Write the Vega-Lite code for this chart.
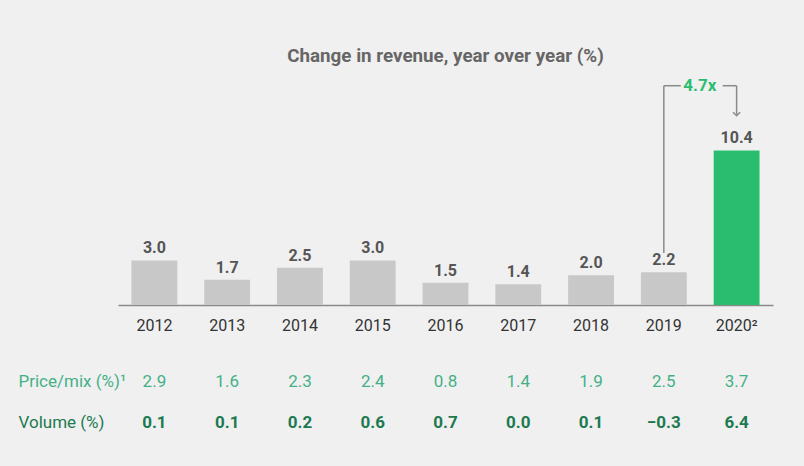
{
  "$schema": "https://vega.github.io/schema/vega-lite/v6.json",
  "background": "#f0f0f0",
  "padding": {"left": 18, "top": 46, "right": 31, "bottom": 31},
  "config": {"font": "Roboto", "view": {"stroke": null}, "concat": {"spacing": 28}},
  "datasets": {
    "rev": [
      {"year": "2012", "value": 3.0},
      {"year": "2013", "value": 1.7},
      {"year": "2014", "value": 2.5},
      {"year": "2015", "value": 3.0},
      {"year": "2016", "value": 1.5},
      {"year": "2017", "value": 1.4},
      {"year": "2018", "value": 2.0},
      {"year": "2019", "value": 2.2},
      {"year": "2020²", "value": 10.4}
    ],
    "ann": [
      {"year": "2019", "year2": "2020²", "top": 14.75, "low": 3.5, "tip": 12.8, "label": "4.7x"}
    ],
    "tab": [
      {"year": "2012", "row": "Price/mix (%)¹", "value": 2.9},
      {"year": "2013", "row": "Price/mix (%)¹", "value": 1.6},
      {"year": "2014", "row": "Price/mix (%)¹", "value": 2.3},
      {"year": "2015", "row": "Price/mix (%)¹", "value": 2.4},
      {"year": "2016", "row": "Price/mix (%)¹", "value": 0.8},
      {"year": "2017", "row": "Price/mix (%)¹", "value": 1.4},
      {"year": "2018", "row": "Price/mix (%)¹", "value": 1.9},
      {"year": "2019", "row": "Price/mix (%)¹", "value": 2.5},
      {"year": "2020²", "row": "Price/mix (%)¹", "value": 3.7},
      {"year": "2012", "row": "Volume (%)", "value": 0.1},
      {"year": "2013", "row": "Volume (%)", "value": 0.1},
      {"year": "2014", "row": "Volume (%)", "value": 0.2},
      {"year": "2015", "row": "Volume (%)", "value": 0.6},
      {"year": "2016", "row": "Volume (%)", "value": 0.7},
      {"year": "2017", "row": "Volume (%)", "value": 0.0},
      {"year": "2018", "row": "Volume (%)", "value": 0.1},
      {"year": "2019", "row": "Volume (%)", "value": -0.3},
      {"year": "2020²", "row": "Volume (%)", "value": 6.4}
    ]
  },
  "vconcat": [
    {
      "width": 655,
      "height": 223,
      "title": {"text": "Change in revenue, year over year (%)", "fontSize": 18.8, "fontWeight": "bold", "color": "#666666", "anchor": "middle", "offset": 11},
      "encoding": {
        "x": {
          "field": "year", "type": "ordinal",
          "scale": {"domain": ["2012","2013","2014","2015","2016","2017","2018","2019","2020²"], "paddingInner": 0.37, "paddingOuter": 0.185},
          "axis": {"title": null, "labelAngle": 0, "ticks": false, "domainColor": "#8a8a8a", "domainWidth": 1.5, "labelFontSize": 16, "labelColor": "#333333", "labelPadding": 12}
        }
      },
      "layer": [
        {
          "data": {"name": "rev"},
          "mark": {"type": "bar"},
          "encoding": {
            "y": {"field": "value", "type": "quantitative", "scale": {"domain": [0, 15], "nice": false}, "axis": null},
            "color": {"condition": {"test": "datum.year === '2020²'", "value": "#2bbd6f"}, "value": "#c8c8c8"}
          }
        },
        {
          "data": {"name": "rev"},
          "mark": {"type": "text", "baseline": "bottom", "dy": -4, "fontSize": 16, "fontWeight": "bold", "color": "#555555"},
          "encoding": {
            "y": {"field": "value", "type": "quantitative"},
            "text": {"field": "value", "type": "quantitative", "format": ".1f"}
          }
        },
        {
          "data": {"name": "ann"},
          "mark": {"type": "rule", "color": "#8a8a8a", "strokeWidth": 1.5},
          "encoding": {
            "y": {"field": "low", "type": "quantitative"},
            "y2": {"field": "top"}
          }
        },
        {
          "data": {"name": "ann"},
          "mark": {"type": "rule", "color": "#8a8a8a", "strokeWidth": 1.5, "x2Offset": 17},
          "encoding": {
            "x2": {"field": "year"},
            "y": {"field": "top", "type": "quantitative"}
          }
        },
        {
          "data": {"name": "ann"},
          "mark": {"type": "rule", "color": "#8a8a8a", "strokeWidth": 1.5, "xOffset": -14},
          "encoding": {
            "x": {"field": "year2", "type": "ordinal"},
            "x2": {"field": "year2"},
            "y": {"field": "top", "type": "quantitative"}
          }
        },
        {
          "data": {"name": "ann"},
          "mark": {"type": "rule", "color": "#8a8a8a", "strokeWidth": 1.5},
          "encoding": {
            "x": {"field": "year2", "type": "ordinal"},
            "y": {"field": "tip", "type": "quantitative"},
            "y2": {"field": "top"}
          }
        },
        {
          "data": {"name": "ann"},
          "mark": {"type": "point", "shape": "M -1 -0.7 L 0 0.3 L 1 -0.7", "filled": false, "color": "#8a8a8a", "strokeWidth": 1.5, "size": 50, "opacity": 1},
          "encoding": {
            "x": {"field": "year2", "type": "ordinal"},
            "y": {"field": "tip", "type": "quantitative"}
          }
        },
        {
          "data": {"name": "ann"},
          "mark": {"type": "text", "fontSize": 17, "fontWeight": "bold", "color": "#2bbd6f", "baseline": "middle", "dx": 36},
          "encoding": {
            "y": {"field": "top", "type": "quantitative"},
            "text": {"field": "label"}
          }
        }
      ]
    },
    {
      "width": 655,
      "height": 82,
      "data": {"name": "tab"},
      "encoding": {
        "x": {
          "field": "year", "type": "ordinal",
          "scale": {"domain": ["2012","2013","2014","2015","2016","2017","2018","2019","2020²"], "paddingInner": 0.37, "paddingOuter": 0.185},
          "axis": null
        },
        "y": {
          "field": "row", "type": "nominal", "sort": ["Price/mix (%)¹", "Volume (%)"],
          "axis": {"title": null, "domain": false, "ticks": false, "labelAlign": "left", "labelPadding": 100, "labelFontSize": 17, "labelColor": {"expr": "datum.value === 'Volume (%)' ? '#1d7a50' : '#45b087'"}}
        },
        "text": {"field": "value", "type": "quantitative", "format": ".1f"}
      },
      "layer": [
        {
          "transform": [{"filter": "datum.row === 'Price/mix (%)¹'"}],
          "mark": {"type": "text", "fontSize": 17, "color": "#45b087"}
        },
        {
          "transform": [{"filter": "datum.row === 'Volume (%)'"}],
          "mark": {"type": "text", "fontSize": 17, "fontWeight": "bold", "color": "#1d7a50"}
        }
      ]
    }
  ]
}
